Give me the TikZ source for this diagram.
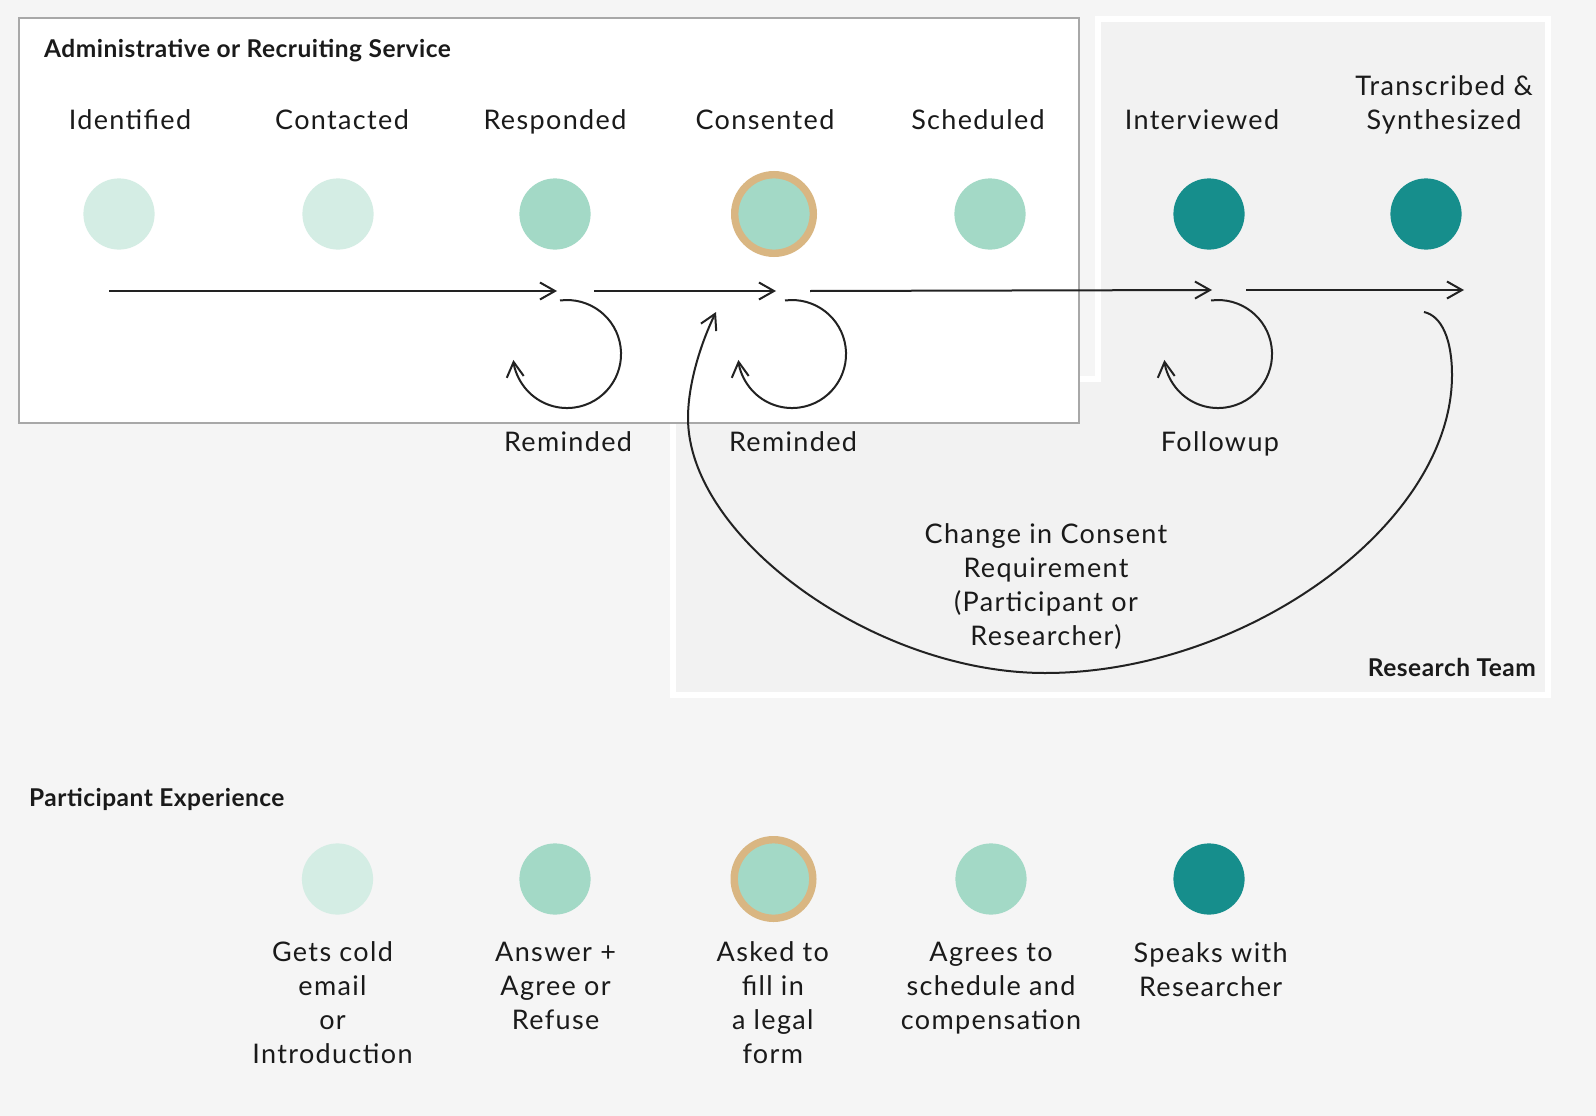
\documentclass[tikz,border=0pt]{standalone}
\usepackage{fontspec}
\setmainfont{Lato}
\usetikzlibrary{arrows.meta}
\definecolor{bg}{HTML}{F5F5F5}
\definecolor{resfill}{HTML}{F2F2F2}
\definecolor{adminborder}{HTML}{A8A8A8}
\definecolor{light}{HTML}{D4EDE4}
\definecolor{mid}{HTML}{A3D9C6}
\definecolor{dark}{HTML}{168E8C}
\definecolor{gold}{HTML}{D9B682}
\definecolor{txt}{HTML}{1A1A1A}
\definecolor{ink}{HTML}{222222}
\tikzset{
  dot/.style={circle, inner sep=0pt, minimum size=71.2pt},
  ringdot/.style={circle, inner sep=0pt, minimum size=78.6pt, fill=mid, draw=gold, line width=7.4pt},
  lab/.style={font=\fontsize{27}{34}\selectfont\addfontfeature{LetterSpace=5}, text=txt, inner sep=0pt, anchor=base, align=center},
  head/.style={font=\bfseries\fontsize{24.5}{28}\selectfont\addfontfeature{LetterSpace=2}, text=txt, inner sep=0pt},
  flow/.style={draw=ink, line width=2pt, -{Straight Barb[length=15pt,width=17pt]}},
}
\begin{document}
\begin{tikzpicture}[x=1pt,y=-1pt]
\useasboundingbox (0,0) rectangle (1596,1116);
\fill[bg] (0,0) rectangle (1596,1116);
% research team region
\draw[line width=6pt, white, fill=resfill] (1098,19) -- (1548,19) -- (1548,695) -- (673,695) -- (673,379) -- (1098,379) -- cycle;
% admin box
\draw[line width=2pt, adminborder, fill=white] (19,18) rectangle (1079,423);
\node[head, anchor=base west] (admin) at (44,58) {Administrative or Recruiting Service};
\node[head, anchor=base east] (team) at (1536,676) {Research Team};
\node[head, anchor=base west] (pexp) at (29,806) {Participant Experience};

% top circles
\node[dot, fill=light] (c1) at (119,214) {};
\node[dot, fill=light] (c2) at (338,214) {};
\node[dot, fill=mid] (c3) at (555,214) {};
\node[ringdot] (c4) at (774,214) {};
\node[dot, fill=mid] (c5) at (990,214) {};
\node[dot, fill=dark] (c6) at (1209,214) {};
\node[dot, fill=dark] (c7) at (1426,214) {};

% top labels
\node[lab] (t1) at (130,129) {Identified};
\node[lab] (t2) at (342,129) {Contacted};
\node[lab] (t3) at (555,129) {Responded};
\node[lab] (t4) at (765,129) {Consented};
\node[lab] (t5) at (978,129) {Scheduled};
\node[lab] (t6) at (1202,129) {Interviewed};
\node[lab] (t7) at (1444,129) {Transcribed \&\\Synthesized};

% flow arrows
\coordinate (a1s) at (109,291);
\coordinate (a1e) at (557,291);
\coordinate (a2s) at (594,291);
\coordinate (a2e) at (776,291);
\coordinate (a3s) at (810,291);
\coordinate (a3e) at (1212,290);
\coordinate (a4s) at (1246,290);
\coordinate (a4e) at (1464,290);
\draw[flow] (a1s) -- (a1e);
\draw[flow] (a2s) -- (a2e);
\draw[flow] (a3s) -- (a3e);
\draw[flow] (a4s) -- (a4e);

% loops
\coordinate (l1) at (560,300.5);
\coordinate (l2) at (785,300.5);
\coordinate (l3) at (1211,300.5);
\draw[flow] (l1) arc[start angle=262.5, end angle=533.7, radius=54];
\draw[flow] (l2) arc[start angle=262.5, end angle=533.7, radius=54];
\draw[flow] (l3) arc[start angle=262.5, end angle=533.7, radius=54];
\node[lab] (r1) at (568,451.7) {Reminded};
\node[lab] (r2) at (793,451.7) {Reminded};
\node[lab] (f1) at (1220,451.7) {Followup};

% big return curve
\coordinate (bs) at (1424,312);
\coordinate (be) at (716,312);
\draw[flow] (bs) .. controls (1442,316) and (1452,340) .. (1452,375)
  .. controls (1452,525) and (1245,673) .. (1045,673)
  .. controls (875,673) and (688,538) .. (688,418)
  .. controls (688,385) and (700,345) .. (be);
\node[lab] (chg) at (1046,645.7) {Change in Consent\\Requirement\\(Participant or\\Researcher)};

% participant experience
\node[dot, fill=light] (p1) at (337.5,879) {};
\node[dot, fill=mid] (p2) at (555,879) {};
\node[ringdot] (p3) at (773.5,879) {};
\node[dot, fill=mid] (p4) at (991,879) {};
\node[dot, fill=dark] (p5) at (1209,879) {};
\node[lab] (b1) at (332.5,1063.7) {Gets cold\\email\\or\\Introduction};
\node[lab] (b2) at (555.6,1029) {Answer +\\Agree or\\Refuse};
\node[lab] (b3) at (772.8,1063.7) {Asked to\\fill in\\a legal\\form};
\node[lab] (b4) at (991,1029) {Agrees to\\schedule and\\compensation};
\node[lab] (b5) at (1210.6,996) {Speaks with\\Researcher};
\end{tikzpicture}
\end{document}
